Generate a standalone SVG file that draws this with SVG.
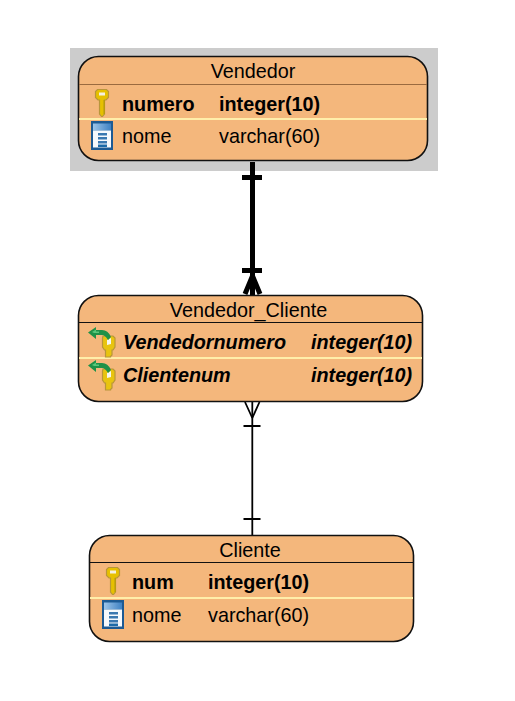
<svg xmlns="http://www.w3.org/2000/svg" width="515" height="701" viewBox="0 0 515 701">
<style>
.box{fill:#f4b77c;stroke:#111;stroke-width:1.6}
.hd{stroke:#111;stroke-width:1}
.rw{stroke:#ffeeaa;stroke-width:2}
text{font-family:"Liberation Sans",Arial,sans-serif;font-size:19.8px;fill:#000}
.b{font-weight:bold}
.bi{font-weight:bold;font-style:italic}
.m{text-anchor:middle}
</style>
<defs>
<linearGradient id="tb" x1="0" x2="1" y1="0" y2="0"><stop offset="0" stop-color="#9cc4e8"/><stop offset="1" stop-color="#3f82c4"/></linearGradient>
<g id="key">
<path d="M-4.500 0.500h9l2 2v6l-2.500 2.500h-1.500v14l-2 2.500h-1l-2-2.500v-14h-1.500l-2.500-2.500v-6z" fill="#e6c000" stroke="#b8963a" stroke-width="1.200"/>
<rect x="-3" y="3.500" width="6" height="3" fill="#f4f0e0"/>
<rect x="1.500" y="11" width="1.500" height="14" fill="#b89a10"/>
</g>
<g id="col">
<rect x="0" y="0" width="22" height="29" fill="#1c5a94"/>
<rect x="2" y="2.500" width="18" height="7" fill="url(#tb)"/>
<rect x="2" y="9.500" width="18" height="17" fill="#f6f9fc"/>
<rect x="7" y="12" width="9" height="2.500" fill="#3a78b0"/>
<rect x="7" y="16" width="9" height="2.500" fill="#3a78b0"/>
<rect x="7" y="20" width="9" height="2.500" fill="#3a78b0"/>
<rect x="7" y="23.500" width="9" height="2.500" fill="#1c6aa8"/>
</g>
<g id="fk">
<path d="M15 9h10l2 2v9l-2 3h-1v5l-1.500 1.500v0.500h-5v-7h-1l-2-3v-9z" fill="#e8c410" stroke="#b8963a" stroke-width="1.200"/>
<path d="M19 13l4-2v6l-4 1z" fill="#f6f6f0"/>
<path d="M0 5.500L8 0v3h6q6 0 9 7l-3 3q-3-5-6-5h-6v4z" fill="#1f9148"/>
<path d="M4 5L8 2.500v2h3v1.500h-5z" fill="#58c87a"/>
</g>
</defs>
<rect x="70" y="48" width="368" height="123" fill="#cccccc"/>
<g id="connectors" fill="none" stroke="#000">
<g id="c1" stroke-width="5">
<path d="M252.500 162V295"/>
<path d="M242 177.500H262M242 270.500H262"/>
<path d="M252.500 276L245 294M252.500 276L260 294" stroke-width="5"/>
</g>
<g id="c2" stroke-width="1.800">
<path d="M252.300 402V535"/>
<path d="M243.500 426H260.500M243.500 519H260.500"/>
<path d="M252.300 418L245 402M252.300 418L259.500 402"/>
</g>
</g>
<g id="vendedor">
<rect class="box" x="78.500" y="56.500" width="349" height="104" rx="20"/>
<path d="M79 84.500H427" stroke="#9a6a3f" stroke-width="1"/>
<path class="rw" d="M79 119H427"/>
<text class="m" x="253" y="78">Vendedor</text>
<use href="#key" x="102" y="89"/>
<text class="b" x="122" y="111">numero</text>
<text class="b" x="219" y="111">integer(10)</text>
<use href="#col" x="91" y="121"/>
<text x="122" y="143">nome</text>
<text x="219" y="143">varchar(60)</text>
</g>
<g id="vendedor_cliente">
<rect class="box" x="78.500" y="295.500" width="344" height="106" rx="20"/>
<path class="hd" d="M79 322.500H422"/>
<path class="rw" d="M79 358H422"/>
<text class="m" x="248.500" y="317">Vendedor_Cliente</text>
<use href="#fk" x="88" y="327"/>
<text class="bi" x="123" y="349">Vendedornumero</text>
<text class="bi" x="311" y="349">integer(10)</text>
<use href="#fk" x="88" y="360"/>
<text class="bi" x="123" y="382">Clientenum</text>
<text class="bi" x="311" y="382">integer(10)</text>
</g>
<g id="cliente">
<rect class="box" x="89.500" y="535.500" width="324" height="106" rx="20"/>
<path class="hd" d="M90 562.500H413"/>
<path class="rw" d="M90 598H413"/>
<text class="m" x="250" y="557">Cliente</text>
<use href="#key" x="113" y="567"/>
<text class="b" x="132" y="589">num</text>
<text class="b" x="208" y="589">integer(10)</text>
<use href="#col" x="102" y="600"/>
<text x="132" y="622">nome</text>
<text x="208" y="622">varchar(60)</text>
</g>
</svg>
